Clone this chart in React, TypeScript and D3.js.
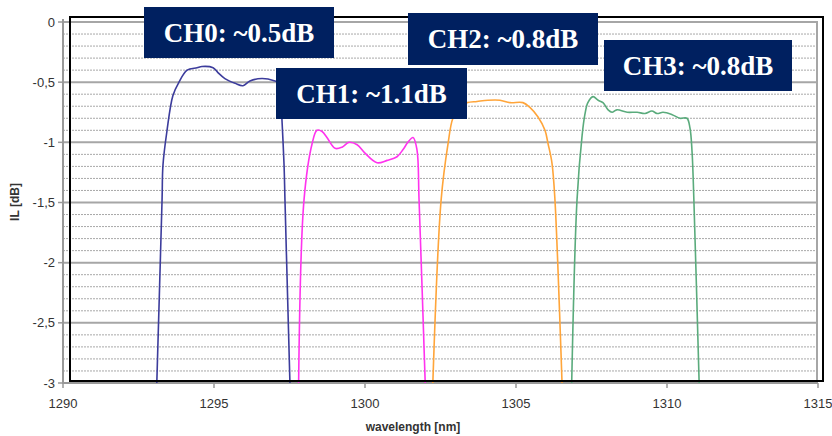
import * as d3 from 'd3';
import { useEffect } from 'react';

// wavelength [nm] / IL [dB]
const ch0X = [1293.1, 1293.28, 1293.31, 1293.44, 1293.64, 1293.84, 1294.11, 1294.44, 1294.6, 1294.97, 1295.13, 1295.36, 1295.7, 1295.96, 1296.19, 1296.59, 1297.02, 1297.19, 1297.25, 1297.32, 1297.35, 1297.52];
const ch0Y = [-3.05, -1.48, -1.19, -0.91, -0.61, -0.5, -0.4, -0.38, -0.37, -0.38, -0.42, -0.47, -0.51, -0.53, -0.49, -0.47, -0.49, -0.51, -0.81, -1.19, -1.48, -3.05];

const ch1X = [1297.8, 1297.98, 1298.25, 1298.41, 1298.58, 1298.74, 1299.01, 1299.24, 1299.47, 1299.74, 1300.0, 1300.4, 1300.73, 1301.06, 1301.26, 1301.42, 1301.59, 1301.72, 1301.79, 1302.0];
const ch1Y = [-3.05, -1.48, -1.01, -0.9, -0.91, -0.96, -1.05, -1.04, -1.0, -1.02, -1.09, -1.17, -1.15, -1.12, -1.06, -1.0, -0.96, -1.06, -1.48, -3.05];

const ch2X = [1302.24, 1302.52, 1302.75, 1302.91, 1303.15, 1303.38, 1303.71, 1304.07, 1304.47, 1304.8, 1305.23, 1305.46, 1305.73, 1305.96, 1306.06, 1306.19, 1306.29, 1306.53];
const ch2Y = [-3.05, -1.48, -1.01, -0.8, -0.7, -0.67, -0.66, -0.65, -0.65, -0.67, -0.67, -0.71, -0.79, -0.9, -1.01, -1.17, -1.48, -3.05];

const ch3X = [1306.84, 1307.02, 1307.19, 1307.28, 1307.38, 1307.55, 1307.72, 1307.88, 1308.05, 1308.18, 1308.34, 1308.68, 1309.01, 1309.27, 1309.5, 1309.67, 1309.87, 1310.17, 1310.43, 1310.66, 1310.76, 1310.83, 1310.89, 1311.07];
const ch3Y = [-3.05, -1.48, -0.94, -0.77, -0.67, -0.62, -0.65, -0.67, -0.73, -0.75, -0.73, -0.75, -0.75, -0.76, -0.74, -0.76, -0.75, -0.77, -0.8, -0.8, -0.88, -1.08, -1.48, -3.05];

const xTicks = [1290, 1295, 1300, 1305, 1310, 1315];
const yTicks = [0, -0.5, -1, -1.5, -2, -2.5, -3];
const labels = ['CH0: ~0.5dB', 'CH1: ~1.1dB', 'CH2: ~0.8dB', 'CH3: ~0.8dB'];
const colors = ['#3c3c9c', '#ff33ee', '#ffa53a', '#5aab7c'];

// label box layout (pixels)
const boxes = [
  { x: 144, y: 7, w: 190, h: 51 },
  { x: 276, y: 68, w: 191, h: 51 },
  { x: 408, y: 13, w: 190, h: 52 },
  { x: 604, y: 40, w: 188, h: 51 },
];

const W = 832;
const H = 436;
const margin = { left: 63, right: 14, top: 22, bottom: 53 };

export default function App() {
  useEffect(() => {
    document.body.style.margin = '0';
  }, []);

  const x = d3.scaleLinear().domain([1290, 1315]).range([margin.left, W - margin.right]);
  const y = d3.scaleLinear().domain([-3, 0]).range([H - margin.bottom, margin.top]);

  const series = [
    d3.zip(ch0X, ch0Y),
    d3.zip(ch1X, ch1Y),
    d3.zip(ch2X, ch2Y),
    d3.zip(ch3X, ch3Y),
  ];

  const line = d3
    .line<number[]>()
    .x((d) => x(d[0]))
    .y((d) => y(d[1]))
    .curve(d3.curveCatmullRom.alpha(0.5));

  const minor = d3.range(0, 31).map((i) => -i / 10).filter((v, i) => i % 5 !== 0);

  const [x0, x1] = x.range();
  const [yb, yt] = y.range();

  return (
    <svg width={W} height={H} style={{ display: 'block', fontFamily: 'Liberation Sans, Arial, sans-serif' }}>
      <defs>
        <clipPath id="plot">
          <rect x={x0} y={yt - 2} width={x1 - x0} height={yb - yt + 2} />
        </clipPath>
      </defs>

      {/* grid */}
      {minor.map((v) => (
        <line key={'m' + v} x1={x0} x2={x1} y1={y(v)} y2={y(v)} stroke="#a8a8a8" strokeWidth={1} strokeDasharray="2,1" />
      ))}
      {yTicks.map((v) => (
        <line key={'M' + v} x1={x0} x2={x1} y1={y(v)} y2={y(v)} stroke="#a6a6a6" strokeWidth={2} />
      ))}
      <line x1={x1 - 1} x2={x1 - 1} y1={yt} y2={yb} stroke="#a6a6a6" strokeWidth={2} />

      {/* axes */}
      <line x1={x0} x2={x0} y1={yt - 3} y2={yb + 1} stroke="#999" strokeWidth={2} />
      <line x1={x0} x2={x1} y1={yb} y2={yb} stroke="#999" strokeWidth={2} />
      {yTicks.map((v) => (
        <g key={'yt' + v}>
          <line x1={x0 - 5} x2={x0} y1={y(v)} y2={y(v)} stroke="#999" strokeWidth={1.5} />
          <text x={x0 - 8} y={y(v)} dy="0.35em" textAnchor="end" fontSize={13} fill="#333">
            {String(v).replace('.', ',')}
          </text>
        </g>
      ))}
      {xTicks.map((v) => (
        <g key={'xt' + v}>
          <line x1={x(v)} x2={x(v)} y1={yb} y2={yb + 5} stroke="#999" strokeWidth={1.5} />
          <text x={x(v)} y={yb + 25} textAnchor="middle" fontSize={13} fill="#333">
            {v}
          </text>
        </g>
      ))}
      <text x={413} y={431} textAnchor="middle" fontSize={12} fontWeight="bold" fill="#333">
        wavelength [nm]
      </text>
      <text transform={`translate(19,202) rotate(-90)`} textAnchor="middle" fontSize={12} fontWeight="bold" fill="#333">
        IL [dB]
      </text>

      {/* curves */}
      <g clipPath="url(#plot)">
        {series.map((s, i) => (
          <path key={i} d={line(s) ?? ''} fill="none" stroke={colors[i]} strokeWidth={1.6} />
        ))}
      </g>

      {/* black frame */}
      <rect x={70} y={17} width={753} height={364} fill="none" stroke="#000" strokeWidth={2} />

      {/* labels */}
      {labels.map((t, i) => (
        <g key={t}>
          <rect x={boxes[i].x} y={boxes[i].y} width={boxes[i].w} height={boxes[i].h} fill="#002060" />
          <text
            x={boxes[i].x + boxes[i].w / 2}
            y={boxes[i].y + boxes[i].h / 2}
            dy="0.35em"
            textAnchor="middle"
            fill="#fff"
            fontSize={27}
            fontWeight="bold"
            fontFamily="Liberation Serif, Times New Roman, serif"
          >
            {t}
          </text>
        </g>
      ))}
    </svg>
  );
}
